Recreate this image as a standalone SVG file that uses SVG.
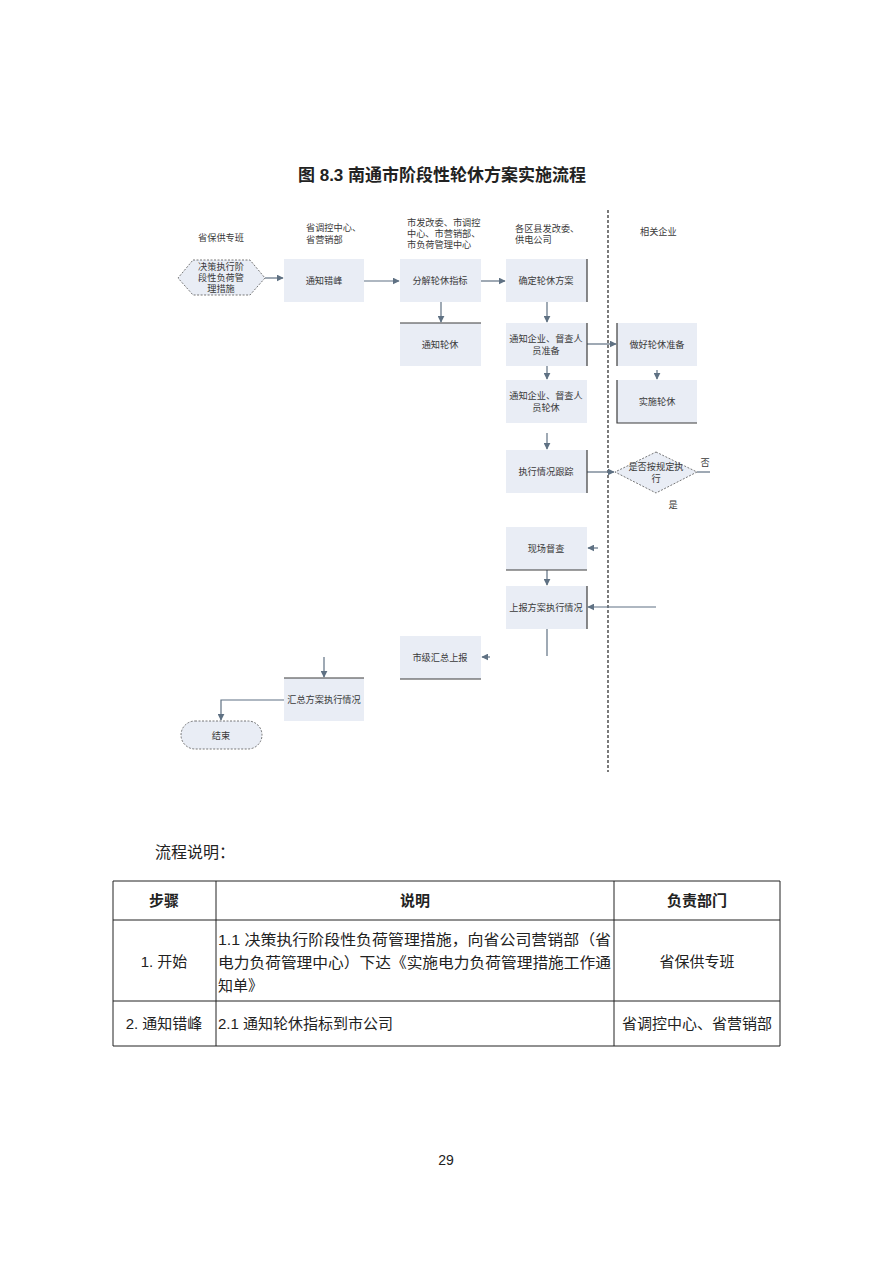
<svg xmlns="http://www.w3.org/2000/svg" width="893" height="1263" viewBox="0 0 893 1263">
<defs>
<style>
.t{font-family:"Liberation Sans","Noto Sans CJK SC",sans-serif;fill:#222;}
.s{font-size:9.2px;fill:#3a3a3a;}
.box{fill:#e9edf5;}
.edge{stroke:#3c3c3c;stroke-width:1.2;fill:none;}
.ln{stroke:#5f7183;stroke-width:1.2;fill:none;}
.tb{stroke:#222;stroke-width:1;fill:none;}
.body{font-size:15px;}
</style>
<marker id="ar" viewBox="0 0 10 10" refX="9" refY="5" markerWidth="7" markerHeight="7" orient="auto" markerUnits="userSpaceOnUse">
<path d="M0,0 L10,5 L0,10 z" fill="#5f7183"/>
</marker>
</defs>
<rect width="893" height="1263" fill="#ffffff"/>

<text class="t" x="442" y="181" font-size="17" font-weight="bold" text-anchor="middle">图 8.3 南通市阶段性轮休方案实施流程</text>

<g id="lanes">
<text class="t s" x="221" y="241" text-anchor="middle">省保供专班</text>
<text class="t s" x="306" y="231">省调控中心、</text>
<text class="t s" x="306" y="243">省营销部</text>
<text class="t s" x="407" y="226">市发改委、市调控</text>
<text class="t s" x="407" y="237">中心、市营销部、</text>
<text class="t s" x="407" y="248">市负荷管理中心</text>
<text class="t s" x="515" y="232">各区县发改委、</text>
<text class="t s" x="515" y="243">供电公司</text>
<text class="t s" x="640" y="235">相关企业</text>
<line x1="608" y1="210" x2="608" y2="772" stroke="#222" stroke-width="1.2" stroke-dasharray="3,2"/>
</g>

<g id="connectors">
<line class="ln" x1="265" y1="278" x2="283" y2="278" marker-end="url(#ar)"/>
<line class="ln" x1="364" y1="281" x2="399" y2="281" marker-end="url(#ar)"/>
<line class="ln" x1="481" y1="281" x2="505" y2="281" marker-end="url(#ar)"/>
<line class="ln" x1="441" y1="302" x2="441" y2="322" marker-end="url(#ar)"/>
<line class="ln" x1="547" y1="302" x2="547" y2="322" marker-end="url(#ar)"/>
<line class="ln" x1="587" y1="344" x2="616" y2="344" marker-end="url(#ar)"/>
<line class="ln" x1="547" y1="365" x2="547" y2="379" marker-end="url(#ar)"/>
<line class="ln" x1="657" y1="370" x2="657" y2="379" marker-end="url(#ar)"/>
<line class="ln" x1="547" y1="433" x2="547" y2="449" marker-end="url(#ar)"/>
<line class="ln" x1="587" y1="472" x2="614" y2="472" marker-end="url(#ar)"/>
<line class="ln" x1="697" y1="472" x2="710" y2="472"/>
<line class="ln" x1="598" y1="548" x2="588" y2="548" marker-end="url(#ar)"/>
<line class="ln" x1="547" y1="570" x2="547" y2="585" marker-end="url(#ar)"/>
<line class="ln" x1="656" y1="607" x2="588" y2="607" marker-end="url(#ar)"/>
<line class="ln" x1="547" y1="628" x2="547" y2="656"/>
<line class="ln" x1="490" y1="657" x2="482" y2="657" marker-end="url(#ar)"/>
<line class="ln" x1="324" y1="657" x2="324" y2="677" marker-end="url(#ar)"/>
<polyline class="ln" points="284,700 221,700 221,720" marker-end="url(#ar)"/>
<text class="t s" x="705" y="466" text-anchor="middle">否</text>
<text class="t s" x="673" y="508" text-anchor="middle">是</text>
</g>

<g id="n-start">
<polygon points="193,260 250,260 265,278 250,295 193,295 178,278" class="box" stroke="#555" stroke-width="0.8" stroke-dasharray="2,1.5"/>
<text class="t s" x="221" y="270" text-anchor="middle">决策执行阶</text>
<text class="t s" x="221" y="281" text-anchor="middle">段性负荷管</text>
<text class="t s" x="221" y="292" text-anchor="middle">理措施</text>
</g>

<g id="n-tzcf">
<rect class="box" x="284" y="259" width="80" height="43"/>
<text class="t s" x="324" y="284" text-anchor="middle">通知错峰</text>
</g>

<g id="n-fjzb">
<rect class="box" x="400" y="259" width="81" height="43"/>
<text class="t s" x="440" y="284" text-anchor="middle">分解轮休指标</text>
</g>

<g id="n-qdfa">
<rect class="box" x="506" y="259" width="81" height="43"/>
<line class="edge" x1="587" y1="259" x2="587" y2="302"/>
<text class="t s" x="546" y="284" text-anchor="middle">确定轮休方案</text>
</g>

<g id="n-tzlx">
<rect class="box" x="400" y="323" width="81" height="43"/>
<line class="edge" x1="400" y1="323" x2="481" y2="323"/>
<text class="t s" x="440" y="348" text-anchor="middle">通知轮休</text>
</g>

<g id="n-tzzb">
<rect class="box" x="506" y="323" width="81" height="43"/>
<line class="edge" x1="587" y1="323" x2="587" y2="366"/>
<text class="t s" x="546" y="342" text-anchor="middle">通知企业、督查人</text>
<text class="t s" x="546" y="354" text-anchor="middle">员准备</text>
</g>

<g id="n-zhzb">
<rect class="box" x="617" y="323" width="80" height="43"/>
<line class="edge" x1="617" y1="323" x2="617" y2="366"/>
<text class="t s" x="657" y="348" text-anchor="middle">做好轮休准备</text>
</g>

<g id="n-tzlx2">
<rect class="box" x="506" y="380" width="81" height="43"/>
<text class="t s" x="546" y="399" text-anchor="middle">通知企业、督查人</text>
<text class="t s" x="546" y="411" text-anchor="middle">员轮休</text>
</g>

<g id="n-sslx">
<rect class="box" x="617" y="380" width="80" height="43"/>
<polyline class="edge" points="617,380 617,423 697,423"/>
<text class="t s" x="657" y="405" text-anchor="middle">实施轮休</text>
</g>

<g id="n-zxgz">
<rect class="box" x="506" y="450" width="81" height="43"/>
<line class="edge" x1="587" y1="450" x2="587" y2="493"/>
<text class="t s" x="546" y="475" text-anchor="middle">执行情况跟踪</text>
</g>

<g id="n-sfzx">
<polygon points="656,452 697,472 656,493 615,472" class="box" stroke="#555" stroke-width="0.8" stroke-dasharray="2,1.5"/>
<text class="t s" x="656" y="470" text-anchor="middle">是否按规定执</text>
<text class="t s" x="656" y="482" text-anchor="middle">行</text>
</g>

<g id="n-xcdc">
<rect class="box" x="506" y="527" width="81" height="43"/>
<line class="edge" x1="506" y1="570" x2="587" y2="570"/>
<text class="t s" x="546" y="552" text-anchor="middle">现场督查</text>
</g>

<g id="n-sbfa">
<rect class="box" x="506" y="586" width="81" height="43"/>
<line class="edge" x1="587" y1="586" x2="587" y2="629"/>
<text class="t s" x="546" y="611" text-anchor="middle">上报方案执行情况</text>
</g>

<g id="n-sjhz">
<rect class="box" x="400" y="636" width="81" height="43"/>
<line class="edge" x1="400" y1="679" x2="481" y2="679"/>
<text class="t s" x="440" y="661" text-anchor="middle">市级汇总上报</text>
</g>

<g id="n-hzfa">
<rect class="box" x="284" y="678" width="80" height="43"/>
<line class="edge" x1="284" y1="678" x2="364" y2="678"/>
<text class="t s" x="324" y="703" text-anchor="middle">汇总方案执行情况</text>
</g>

<g id="n-end">
<rect x="181" y="721" width="81" height="28" rx="14" ry="14" class="box" stroke="#555" stroke-width="0.8" stroke-dasharray="2,1.5"/>
<text class="t s" x="221" y="739" text-anchor="middle">结束</text>
</g>

<text class="t" x="155" y="858" font-size="16">流程说明：</text>

<g id="table">
<line class="tb" x1="113" y1="881" x2="780" y2="881" stroke-width="1.4"/>
<line class="tb" x1="113" y1="920" x2="780" y2="920"/>
<line class="tb" x1="113" y1="1001" x2="780" y2="1001"/>
<line class="tb" x1="113" y1="1046" x2="780" y2="1046"/>
<line class="tb" x1="113" y1="881" x2="113" y2="1046"/>
<line class="tb" x1="216" y1="881" x2="216" y2="1046"/>
<line class="tb" x1="614" y1="881" x2="614" y2="1046"/>
<line class="tb" x1="780" y1="881" x2="780" y2="1046"/>
<text class="t" x="164" y="906" font-size="15" font-weight="bold" text-anchor="middle">步骤</text>
<text class="t" x="415" y="906" font-size="15" font-weight="bold" text-anchor="middle">说明</text>
<text class="t" x="697" y="906" font-size="15" font-weight="bold" text-anchor="middle">负责部门</text>
<text class="t body" x="164" y="967" text-anchor="middle">1. 开始</text>
<text class="t body" x="218" y="945" textLength="393" lengthAdjust="spacingAndGlyphs">1.1 决策执行阶段性负荷管理措施，向省公司营销部（省</text>
<text class="t body" x="218" y="968" textLength="393" lengthAdjust="spacingAndGlyphs">电力负荷管理中心）下达《实施电力负荷管理措施工作通</text>
<text class="t body" x="218" y="991">知单》</text>
<text class="t body" x="697" y="967" text-anchor="middle">省保供专班</text>
<text class="t body" x="164" y="1029" text-anchor="middle">2. 通知错峰</text>
<text class="t body" x="218" y="1029">2.1 通知轮休指标到市公司</text>
<text class="t body" x="697" y="1029" text-anchor="middle">省调控中心、省营销部</text>
</g>

<text class="t" x="446" y="1165" font-size="14" text-anchor="middle">29</text>
</svg>
